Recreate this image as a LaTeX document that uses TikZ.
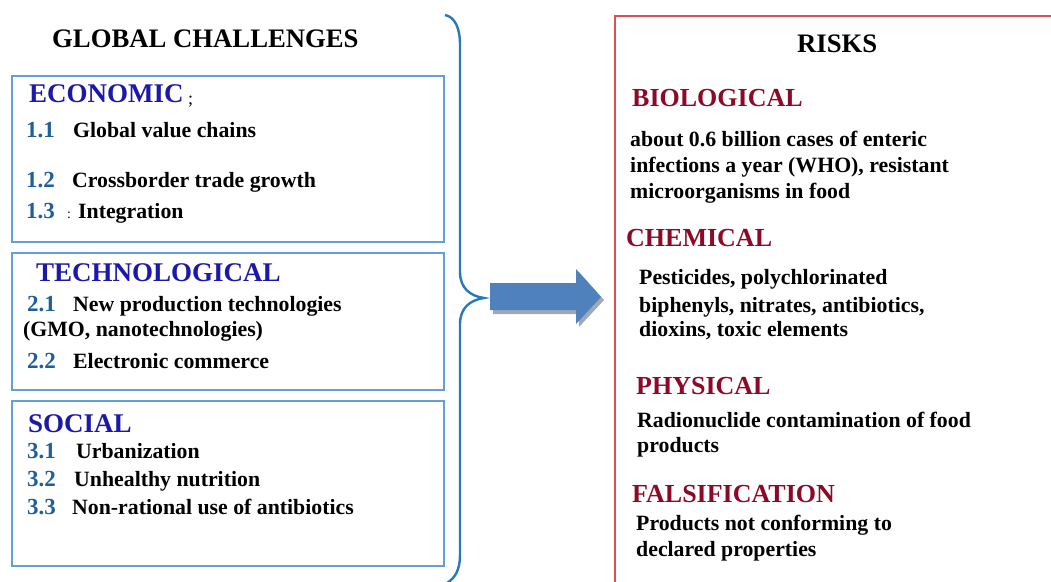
\documentclass[tikz,border=0pt]{standalone}
\usepackage{fontspec}
\setmainfont{LiberationSerif-Regular.ttf}[BoldFont={LiberationSerif-Bold.ttf}]
\definecolor{hblue}{RGB}{28,24,170}
\definecolor{nblue}{RGB}{30,95,155}
\definecolor{boxblue}{RGB}{100,160,215}
\definecolor{brblue}{RGB}{40,120,190}
\definecolor{rbord}{RGB}{220,80,85}
\definecolor{hred}{RGB}{140,10,40}
\definecolor{arrfill}{RGB}{79,129,189}
\definecolor{arrshadow}{RGB}{160,168,184}
\tikzset{
  txt/.style={anchor=base west, inner sep=0pt, font=\rmfamily\bfseries\fontsize{21.8}{25}\selectfont},
  num/.style={txt, text=nblue, font=\rmfamily\bfseries\fontsize{23}{25}\selectfont},
  bhead/.style={anchor=base west, inner sep=0pt, text=hblue, font=\rmfamily\bfseries\fontsize{27}{30}\selectfont},
  rhead/.style={anchor=base west, inner sep=0pt, text=hred, font=\rmfamily\bfseries\fontsize{26}{30}\selectfont},
  title/.style={anchor=base west, inner sep=0pt, font=\rmfamily\bfseries\fontsize{26.7}{30}\selectfont},
  cbox/.style={draw=boxblue, line width=2pt},
}
\begin{document}
\begin{tikzpicture}[x=1pt,y=-1pt]
\useasboundingbox (0,0) rectangle (1051,581);
\clip (0,0) rectangle (1051,581);
% left boxes
\draw[cbox] (12,76) rectangle (444,242);
\draw[cbox] (12,253) rectangle (444,390);
\draw[cbox] (12,401) rectangle (444,566);
% brace
\draw[brblue, line width=2.4pt] (445,15) .. controls (455,17) and (460,28) .. (460,45) -- (460,272) .. controls (460,288) and (470,296) .. (484,298) .. controls (470,300) and (460,308) .. (460,324) -- (460,555) .. controls (460,570) and (455,578) .. (447,583);
% arrow
\fill[arrshadow] (493,286) -- (579,286) -- (579,272) -- (604,300) -- (579,327) -- (579,314) -- (493,314) -- cycle;
\fill[arrfill] (490,283) -- (576,283) -- (576,269) -- (601,297) -- (576,324) -- (576,310) -- (490,310) -- cycle;
% risks box
\draw[rbord, line width=2pt] (615,16) rectangle (1070,600);
% left texts
\node[title] (gc) at (52,47) {GLOBAL CHALLENGES};
\node[bhead] (eco) at (29,102) {ECONOMIC};
\node[txt, font=\rmfamily\fontsize{18}{20}\selectfont] (ecos) at (188,104) {;};
\node[num] (n11) at (26,137) {1.1};
\node[txt] (t11) at (73,137) {Global value chains};
\node[num] (n12) at (26,187) {1.2};
\node[txt] (t12) at (72,187) {Crossborder trade growth};
\node[num] (n13) at (26,218) {1.3};
\node[txt, font=\rmfamily\fontsize{14}{16}\selectfont] (c13) at (67,218) {:};
\node[txt] (t13) at (78,218) {Integration};
\node[bhead] (tec) at (36,281) {TECHNOLOGICAL};
\node[num] (n21) at (27,311) {2.1};
\node[txt] (t21) at (73,311) {New production technologies};
\node[txt] (t21b) at (23,336) {(GMO, nanotechnologies)};
\node[num] (n22) at (27,368) {2.2};
\node[txt] (t22) at (73,368) {Electronic commerce};
\node[bhead] (soc) at (28,432) {SOCIAL};
\node[num] (n31) at (27,458) {3.1};
\node[txt] (t31) at (76,458) {Urbanization};
\node[num] (n32) at (27,486) {3.2};
\node[txt] (t32) at (74,486) {Unhealthy nutrition};
\node[num] (n33) at (27,514) {3.3};
\node[txt] (t33) at (72,514) {Non-rational use of antibiotics};
% right texts
\node[title] (risks) at (797,52) {RISKS};
\node[rhead] (bio) at (632,106) {BIOLOGICAL};
\node[txt] (b1) at (630,146) {about 0.6 billion cases of enteric};
\node[txt] (b2) at (630,172) {infections a year (WHO), resistant};
\node[txt] (b3) at (630,198) {microorganisms in food};
\node[rhead] (che) at (626,246) {CHEMICAL};
\node[txt] (c1) at (639,284) {Pesticides, polychlorinated};
\node[txt] (c2) at (639,312) {biphenyls, nitrates, antibiotics,};
\node[txt] (c3) at (639,336) {dioxins, toxic elements};
\node[rhead] (phy) at (636,394) {PHYSICAL};
\node[txt] (p1) at (637,427) {Radionuclide contamination of food};
\node[txt] (p2) at (637,452) {products};
\node[rhead] (fal) at (632,502) {FALSIFICATION};
\node[txt] (f1) at (636,530) {Products not conforming to};
\node[txt] (f2) at (636,556) {declared properties};
\end{tikzpicture}
\end{document}
